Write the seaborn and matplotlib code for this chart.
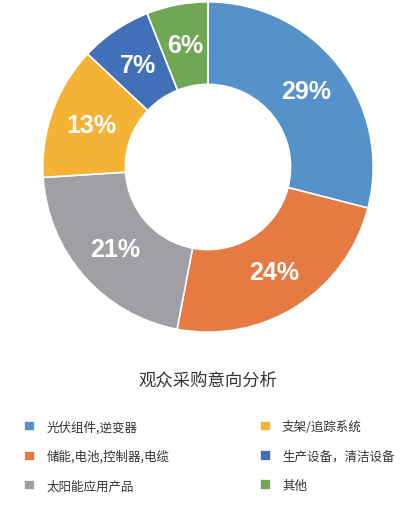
"""
观众采购意向分析 - donut chart with a two-column legend.
"""

import matplotlib
matplotlib.use('Agg')
import matplotlib.pyplot as plt
import seaborn as sns

sns.set_theme(style='white')
plt.rcParams['font.family'] = ['Noto Sans CJK SC', 'DejaVu Sans']

# Data
categories = ['光伏组件,逆变器', '储能,电池,控制器,电缆', '太阳能应用产品',
              '支架/追踪系统', '生产设备，清洁设备', '其他']
shares = [29, 24, 21, 13, 7, 6]
colors = ['#5592C9', '#E57A43', '#A0A0A4', '#F5B335', '#4170B9', '#70A754']
title = '观众采购意向分析'

W, H = 412, 510
fig = plt.figure(figsize=(W / 100, H / 100), dpi=100)

# Donut: centre (208, 168) px, outer radius 166 px
cx, cy, r = 208, 168, 166
ax = fig.add_axes([(cx - r) / W, (H - cy - r) / H, 2 * r / W, 2 * r / H])
wedges, _, autotexts = ax.pie(
    shares, colors=colors, startangle=90, counterclock=False,
    autopct='%d%%', pctdistance=0.75, radius=1,
    wedgeprops={'width': 0.5, 'edgecolor': 'white', 'linewidth': 1.2},
)
for t in autotexts:
    t.set_fontfamily(['Liberation Sans', 'DejaVu Sans'])
    t.set_fontweight('bold')
    t.set_fontsize(18)
    t.set_color('white')
ax.set_xlim(-1.005, 1.005)
ax.set_ylim(-1.005, 1.005)
ax.set_aspect('equal')
ax.axis('off')

fig.text(cx / W, 1 - 381 / H, title, ha='center', va='center',
         fontsize=12.5, color='#333333')

fig.legend(wedges, categories, ncol=2, frameon=False,
           loc='upper left', bbox_to_anchor=(24 / W, 1 - 421 / H),
           borderaxespad=0, borderpad=0,
           fontsize=9, labelcolor='#333333',
           handlelength=0.9, handleheight=0.9, handletextpad=0.9,
           labelspacing=1.3, columnspacing=7.2)

plt.savefig('out.png', dpi=100)
plt.close()
